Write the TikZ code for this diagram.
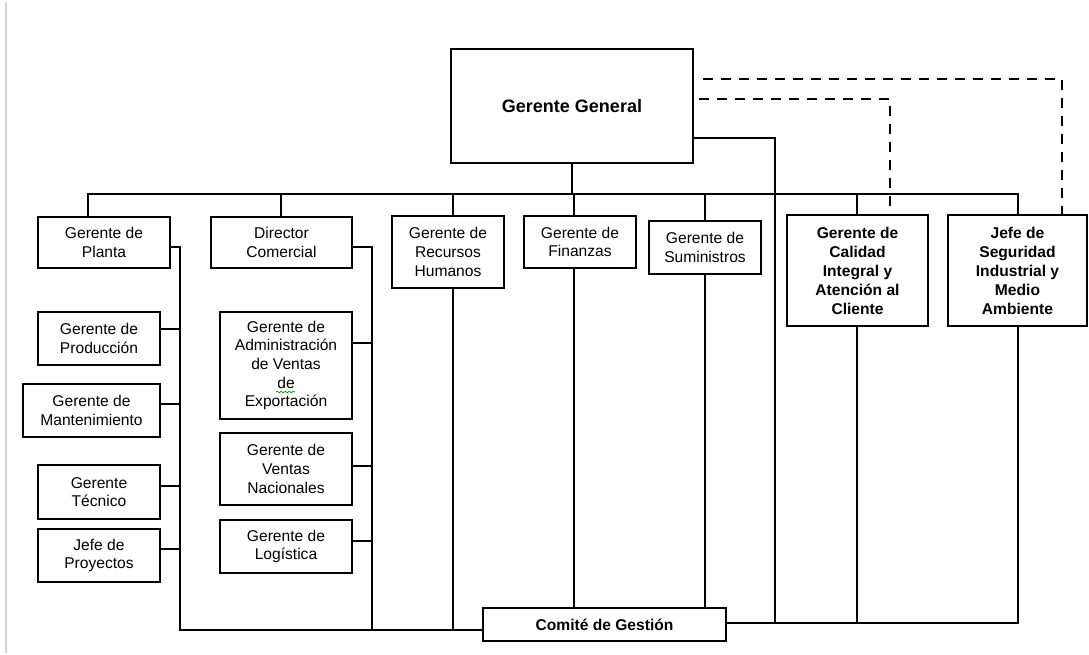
\documentclass[tikz,border=0pt]{standalone}
\usepackage{fontspec}
\setmainfont{Liberation Sans}
\usetikzlibrary{decorations.pathmorphing}
\begin{document}
\begin{tikzpicture}[x=1pt,y=-1pt,
  box/.style={draw, line width=2.3pt, inner sep=0pt, align=center, font=\fontsize{15.6}{18.6}\selectfont},
  bbox/.style={box, font=\fontsize{15.6}{19}\selectfont\bfseries},
  link/.style={line width=2.2pt, line cap=rect, line join=miter},
  dashlink/.style={line width=2.2pt, dash pattern=on 10pt off 8pt, line join=miter}]
\fill[white] (0,0) rectangle (1089,655);
\useasboundingbox (0,0) rectangle (1089,655);
\draw[gray!35, line width=1.5pt] (6,2) -- (6,653);

% nodes
\node[bbox, font=\fontsize{18}{21}\selectfont\bfseries, minimum width=242pt, minimum height=114pt] (gg) at (572,106) {Gerente General};
\node[box, minimum width=132pt, minimum height=51pt] (pl) at (104,242.5) {Gerente de\\Planta};
\node[box, minimum width=141pt, minimum height=51pt] (dc) at (281.5,242.5) {Director\\Comercial};
\node[box, minimum width=112pt, minimum height=72pt] (rh) at (448,252) {Gerente de\\Recursos\\Humanos};
\node[box, minimum width=112pt, minimum height=52pt] (fi) at (580,242) {Gerente de\\Finanzas};
\node[box, minimum width=112pt, minimum height=53pt] (su) at (705,247.5) {Gerente de\\Suministros};
\node[bbox, minimum width=141pt, minimum height=111pt] (ca) at (857.5,270.5) {Gerente de\\Calidad\\Integral y\\Atención al\\Cliente};
\node[bbox, minimum width=139pt, minimum height=111pt] (js) at (1017.5,270.5) {Jefe de\\Seguridad\\Industrial y\\Medio\\Ambiente};
\node[box, minimum width=122pt, minimum height=53pt] (pr) at (99,338.5) {Gerente de\\Producción};
\node[box, minimum width=137pt, minimum height=53pt] (ma) at (91.5,410.5) {Gerente de\\Mantenimiento};
\node[box, minimum width=122pt, minimum height=54pt] (te) at (99,492) {Gerente\\Técnico};
\node[box, minimum width=122pt, minimum height=53pt] (jp) at (99,555.5) {Jefe de\\Proyectos};
\node[box, minimum width=132pt, minimum height=107pt] (ad) at (286,365.5) {Gerente de\\Administración\\de Ventas\\de\\Exportación};
\node[box, minimum width=132pt, minimum height=72pt] (vn) at (286,469) {Gerente de\\Ventas\\Nacionales};
\node[box, minimum width=132pt, minimum height=53pt] (lo) at (286,546.5) {Gerente de\\Logística};
\node[bbox, minimum width=243pt, minimum height=33pt] (cg) at (604.5,624.5) {Comité de Gestión};

% spell-check squiggle under "de"
\draw[green!60!black, line width=0.7pt, decorate, decoration={snake, amplitude=0.9pt, segment length=4pt}] (276,392) -- (295,392);

% coordinates
\coordinate (busL) at (88,194);
\coordinate (busR) at (1018,194);
\coordinate (bDc) at (281,194);
\coordinate (bRh) at (453,194);
\coordinate (bFi) at (574,194);
\coordinate (bSu) at (705,194);
\coordinate (bCa) at (857,194);
\coordinate (plR) at (180,247);
\coordinate (spL) at (180,630);
\coordinate (dcR) at (372,247);
\coordinate (spM) at (372,630);
\coordinate (rhB) at (453,630);
\coordinate (brG) at (775,623);
\coordinate (brC) at (857,623);
\coordinate (brR) at (1018,623);
\coordinate (d1) at (1062,79);
\coordinate (d2) at (890,99);

% top bus
\draw[link] (gg.south) -- (gg.south |- busL);
\draw[link] (busL) -- (busR);
\draw[link] (busL) -- (busL |- pl.north);
\draw[link] (bDc) -- (bDc |- dc.north);
\draw[link] (bRh) -- (bRh |- rh.north);
\draw[link] (bFi) -- (bFi |- fi.north);
\draw[link] (bSu) -- (su.north);
\draw[link] (bCa) -- (bCa |- ca.north);
\draw[link] (busR) -- (busR |- js.north);

% dashed links
\draw[dashlink] ([xshift=9pt]gg.east |- d1) -- (d1) -- (d1 |- js.north);
\draw[dashlink] ([xshift=5pt]gg.east |- d2) -- (d2) -- ([yshift=8pt]d2 |- ca.north);

% left branch
\draw[link] (plR -| pl.east) -- (plR) -- (spL) -- (spL -| cg.west);
\draw[link] ([yshift=9.5pt]pr.east) -- ([yshift=9.5pt]pr.east -| spL);
\draw[link] ([yshift=6.5pt]ma.east) -- ([yshift=6.5pt]ma.east -| spL);
\draw[link] ([yshift=6pt]te.east) -- ([yshift=6pt]te.east -| spL);
\draw[link] ([yshift=6.5pt]jp.east) -- ([yshift=6.5pt]jp.east -| spL);

% middle branch
\draw[link] (dcR -| dc.east) -- (dcR) -- (spM);
\draw[link] ([yshift=22.5pt]ad.east) -- ([yshift=22.5pt]ad.east -| spM);
\draw[link] ([yshift=3pt]vn.east) -- ([yshift=3pt]vn.east -| spM);
\draw[link] ([yshift=5.5pt]lo.east) -- ([yshift=5.5pt]lo.east -| spM);

% down to committee
\draw[link] (rhB |- rh.south) -- (rhB);
\draw[link] (bFi |- fi.south) -- (bFi |- cg.north);
\draw[link] (su.south) -- (su.south |- cg.north);
\draw[link] ([yshift=-32pt]gg.east) -| (brG);
\draw[link] (brR -| cg.east) -- (brR) -- (brR |- js.south);
\draw[link] (brC |- ca.south) -- (brC);
\end{tikzpicture}
\end{document}
